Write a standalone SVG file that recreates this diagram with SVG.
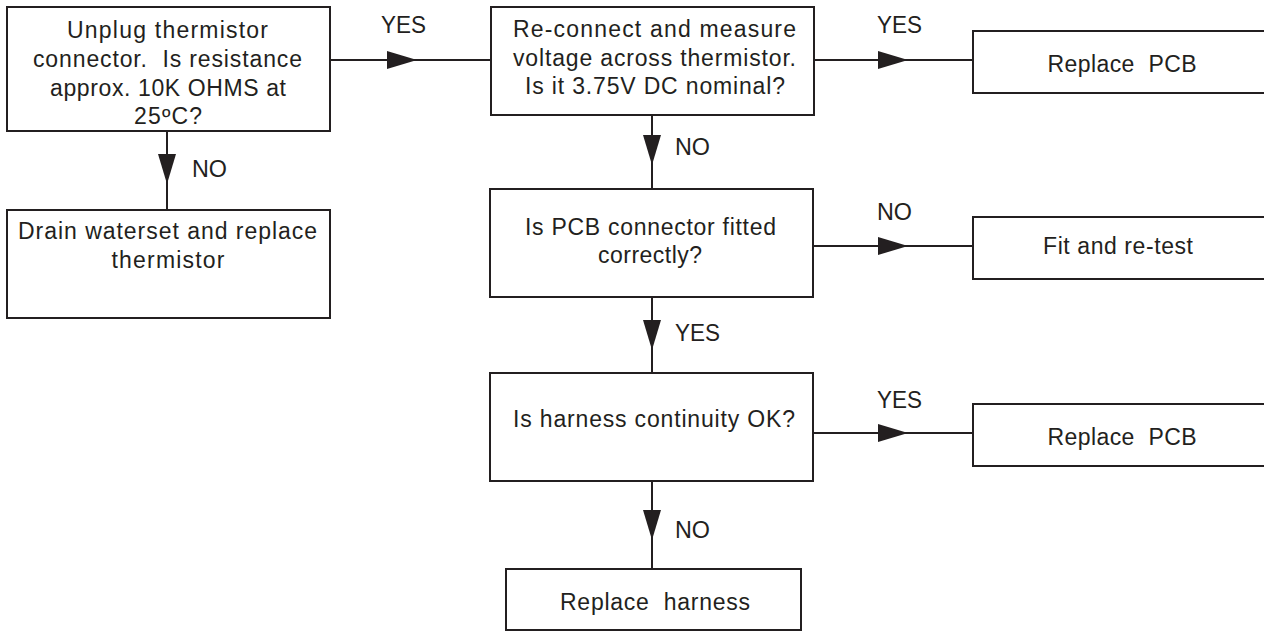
<svg xmlns="http://www.w3.org/2000/svg" width="1264" height="631" viewBox="0 0 1264 631">
<defs>
<style>
.box{fill:#fff;stroke:#231f20;stroke-width:2}
.t{font-family:"Liberation Sans",Arial,sans-serif;font-size:23px;fill:#231f20;text-anchor:middle;white-space:pre}
.lb{font-family:"Liberation Sans",Arial,sans-serif;font-size:23px;fill:#231f20}
.c{fill:none;stroke:#231f20;stroke-width:2;marker-mid:url(#ah)}
</style>
<marker id="ah" viewBox="0 0 30 18" refX="30" refY="9" markerWidth="30" markerHeight="18" markerUnits="userSpaceOnUse" orient="auto">
<path d="M0,0 L30,9 L0,18 Z" fill="#231f20"/>
</marker>
</defs>
<rect width="1264" height="631" fill="#fff"/>
<g id="connectors">
<path class="c" d="M330,60 L417,60 L490,60"/>
<path class="c" d="M814,60 L908,60 L973,60"/>
<path class="c" d="M167,131 L167,184 L167,210"/>
<path class="c" d="M652,115 L652,165 L652,189"/>
<path class="c" d="M813,246 L908,246 L973,246"/>
<path class="c" d="M652,297 L652,350 L652,373"/>
<path class="c" d="M813,433 L908,433 L973,433"/>
<path class="c" d="M652,481 L652,540 L652,569"/>
<text class="lb" x="381" y="33" textLength="45" lengthAdjust="spacingAndGlyphs">YES</text>
<text class="lb" x="877" y="33" textLength="45" lengthAdjust="spacingAndGlyphs">YES</text>
<text class="lb" x="192" y="177" textLength="35" lengthAdjust="spacingAndGlyphs">NO</text>
<text class="lb" x="675" y="155" textLength="35" lengthAdjust="spacingAndGlyphs">NO</text>
<text class="lb" x="877" y="220" textLength="35" lengthAdjust="spacingAndGlyphs">NO</text>
<text class="lb" x="675" y="341" textLength="45" lengthAdjust="spacingAndGlyphs">YES</text>
<text class="lb" x="877" y="408" textLength="45" lengthAdjust="spacingAndGlyphs">YES</text>
<text class="lb" x="675" y="538" textLength="35" lengthAdjust="spacingAndGlyphs">NO</text>
</g>
<g id="n1">
<rect class="box" x="7" y="7" width="323" height="124"/>
<text class="t" x="167.5" y="38" textLength="201" lengthAdjust="spacing">Unplug thermistor</text>
<text class="t" x="167.5" y="67" textLength="269" lengthAdjust="spacing">connector.  Is resistance</text>
<text class="t" x="168" y="96" textLength="236" lengthAdjust="spacing">approx. 10K OHMS at</text>
<text class="t" x="168" y="124" textLength="68" lengthAdjust="spacing">25ºC?</text>
</g>
<g id="n2">
<rect class="box" x="7" y="210" width="323" height="108"/>
<text class="t" x="167.5" y="239" textLength="299" lengthAdjust="spacing">Drain waterset and replace</text>
<text class="t" x="168" y="268" textLength="113" lengthAdjust="spacing">thermistor</text>
</g>
<g id="n3">
<rect class="box" x="491" y="7" width="323" height="108"/>
<text class="t" x="654.5" y="37" textLength="283" lengthAdjust="spacing">Re-connect and measure</text>
<text class="t" x="654.5" y="66" textLength="283" lengthAdjust="spacing">voltage across thermistor.</text>
<text class="t" x="655" y="94" textLength="260" lengthAdjust="spacing">Is it 3.75V DC nominal?</text>
</g>
<g id="n4">
<rect class="box" x="973" y="31" width="300" height="62"/>
<text class="t" x="1122" y="72" textLength="149" lengthAdjust="spacing">Replace  PCB</text>
</g>
<g id="n5">
<rect class="box" x="490" y="189" width="323" height="108"/>
<text class="t" x="650.5" y="235" textLength="251" lengthAdjust="spacing">Is PCB connector fitted</text>
<text class="t" x="650" y="263" textLength="104" lengthAdjust="spacing">correctly?</text>
</g>
<g id="n6">
<rect class="box" x="973" y="217" width="300" height="62"/>
<text class="t" x="1118" y="254" textLength="150" lengthAdjust="spacing">Fit and re-test</text>
</g>
<g id="n7">
<rect class="box" x="490" y="373" width="323" height="108"/>
<text class="t" x="654" y="427" textLength="282" lengthAdjust="spacing">Is harness continuity OK?</text>
</g>
<g id="n8">
<rect class="box" x="973" y="404" width="300" height="62"/>
<text class="t" x="1122" y="445" textLength="149" lengthAdjust="spacing">Replace  PCB</text>
</g>
<g id="n9">
<rect class="box" x="506" y="569" width="295" height="61"/>
<text class="t" x="655" y="610" textLength="190" lengthAdjust="spacing">Replace  harness</text>
</g>
</svg>
